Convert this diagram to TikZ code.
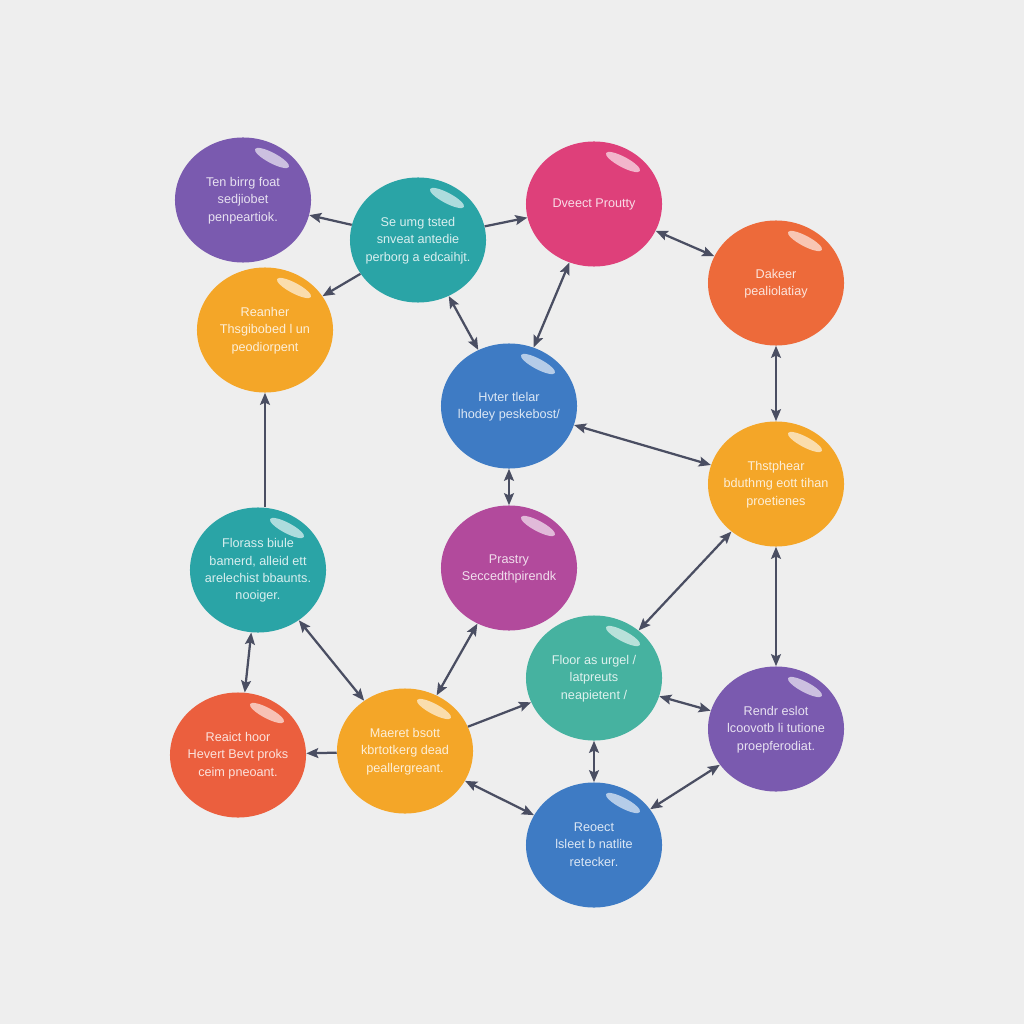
\documentclass[tikz,border=0pt]{standalone}
\usepackage{fontspec}
\setmainfont{Liberation Sans}
\usetikzlibrary{arrows.meta,shapes}

\definecolor{paper}{RGB}{238,238,238}
\definecolor{linkcol}{RGB}{74,78,98}
\definecolor{cpurple}{RGB}{122,90,175}
\definecolor{cteal}{RGB}{42,164,166}
\definecolor{cpink}{RGB}{222,64,122}
\definecolor{corange}{RGB}{237,106,58}
\definecolor{cyellow}{RGB}{244,166,40}
\definecolor{cblue}{RGB}{62,123,196}
\definecolor{cmagenta}{RGB}{178,74,156}
\definecolor{cgreen}{RGB}{70,178,160}
\definecolor{cred}{RGB}{235,95,62}

% text that does not widen the bubble
\newcommand{\btext}[1]{\smash{\makebox[0pt]{\raisebox{-2.5pt}{\begin{tabular}{@{}c@{}}#1\end{tabular}}}}}

\begin{document}
\begin{tikzpicture}[x=0.025cm,y=-0.025cm,>={Stealth[length=8.5pt,width=7pt,inset=1.5pt]},
	bubble/.style={ellipse,minimum width=3.4cm,minimum height=3.125cm,inner sep=0pt,
		text=white,text opacity=.82,font=\fontsize{9}{12.4}\selectfont},
	link/.style={draw=linkcol,line width=1.6pt},
	shine/.style={fill=white,opacity=.62}
]

	\fill[paper] (0,0) rectangle (1024,1024);

	\node[bubble,fill=cpurple] at (243,200) (purpA) {\btext{Ten birrg foat\\sedjiobet\\penpeartiok.}};
	\node[bubble,fill=cteal] at (418,240) (tealA) {\btext{Se umg tsted\\snveat antedie\\perborg a edcaihjt.}};
	\node[bubble,fill=cpink] at (594,204) (pink) {\btext{Dveect Proutty}};
	\node[bubble,fill=corange] at (776,283) (orange) {\btext{Dakeer\\pealiolatiay}};
	\node[bubble,fill=cyellow] at (265,330) (yelA) {\btext{Reanher\\Thsgibobed l un\\peodiorpent}};
	\node[bubble,fill=cblue] at (509,406) (blueA) {\btext{Hvter tlelar\\lhodey peskebost/}};
	\node[bubble,fill=cyellow] at (776,484) (yelB) {\btext{Thstphear\\bduthmg eott tihan\\proetienes}};
	\node[bubble,fill=cteal] at (258,570) (tealB) {\btext{Florass biule\\bamerd, alleid ett\\arelechist bbaunts.\\nooiger.}};
	\node[bubble,fill=cmagenta] at (509,568) (magenta) {\btext{Prastry\\Seccedthpirendk}};
	\node[bubble,fill=cgreen] at (594,678) (green) {\btext{Floor as urgel /\\latpreuts\\neapietent /}};
	\node[bubble,fill=cpurple] at (776,729) (purpB) {\btext{Rendr eslot\\lcoovotb li tutione\\proepferodiat.}};
	\node[bubble,fill=cred] at (238,755) (red) {\btext{Reaict hoor\\Hevert Bevt proks\\ceim pneoant.}};
	\node[bubble,fill=cyellow] at (405,751) (yelC) {\btext{Maeret bsott\\kbrtotkerg dead\\peallergreant.}};
	\node[bubble,fill=cblue] at (594,845) (blueB) {\btext{Reoect\\lsleet b natlite\\retecker.}};

	% glossy spots
	\foreach \n in {purpA,tealA,pink,orange,yelA,blueA,yelB,tealB,magenta,green,purpB,red,yelC,blueB} {
		\path ([shift={(29,-42)}]\n.center) coordinate (spot);
		\fill[shine,rotate around={-28:(spot)}] (spot) ellipse (0.48cm and 0.13cm);
	}

	% one-way links
	\foreach \a/\b in {tealA/purpA,tealA/yelA,tealA/pink,yelC/red,yelC/green} {
		\draw[link,->] (\a) -- (\b);
	}
	\draw[link,->] (tealB.north -| yelA.south) -- (yelA.south);

	% two-way links
	\foreach \a/\b in {tealA/blueA,pink/orange,pink/blueA,orange/yelB,blueA/yelB,blueA/magenta,
		tealB/red,tealB/yelC,yelC/magenta,yelC/blueB,green/yelB,green/purpB,green/blueB,
		yelB/purpB,blueB/purpB} {
		\draw[link,<->] (\a) -- (\b);
	}
\end{tikzpicture}
\end{document}
